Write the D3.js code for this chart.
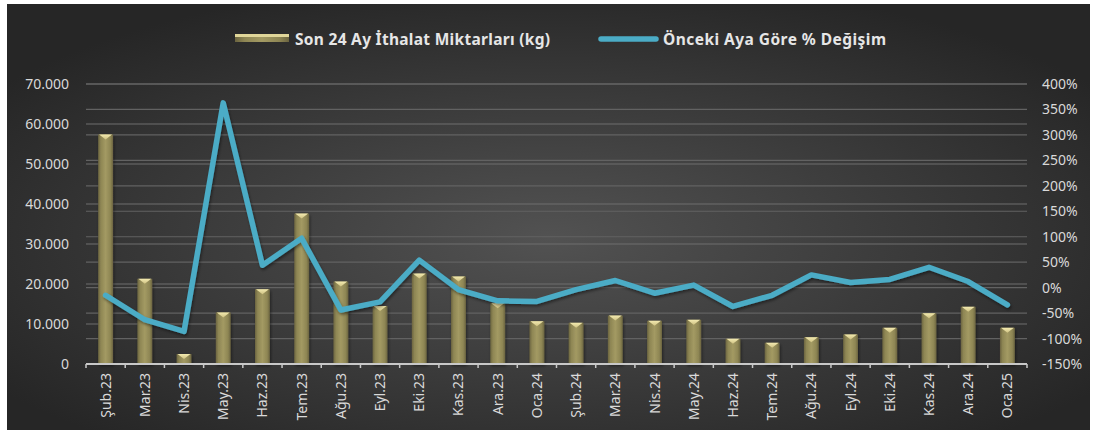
<!DOCTYPE html>
<html>
<head>
<meta charset="utf-8">
<script src="https://cdn.jsdelivr.net/npm/d3@7"></script>
<style>
  body { margin: 0; background: #ffffff; }
  svg { display: block; font-family: "Noto Sans", "Open Sans", sans-serif; }
</style>
</head>
<body>
<div id="chart"></div>
<script>
const WIDTH = 1094;
const HEIGHT = 436;

// data
const months = ["Şub.23", "Mar.23", "Nis.23", "May.23", "Haz.23", "Tem.23", "Ağu.23", "Eyl.23",
  "Eki.23", "Kas.23", "Ara.23", "Oca.24", "Şub.24", "Mar.24", "Nis.24", "May.24",
  "Haz.24", "Tem.24", "Ağu.24", "Eyl.24", "Eki.24", "Kas.24", "Ara.24", "Oca.25"];
const imports = [57400, 21300, 2500, 12900, 18700, 37600, 20600, 14500,
  22600, 21900, 15200, 10700, 10300, 12100, 10800, 11050,
  6300, 5300, 6700, 7400, 9050, 12700, 14300, 9050];
const change = [-15, -63, -86, 363, 44, 97, -44, -28,
  54, -4, -26, -27, -4, 14, -11, 5,
  -37, -15, 25, 10, 16, 40, 12, -34];
const leftTicks = [0, 10000, 20000, 30000, 40000, 50000, 60000, 70000];
const rightTicks = [-150, -100, -50, 0, 50, 100, 150, 200, 250, 300, 350, 400];

const legendBarLabel = "Son 24 Ay İthalat Miktarları (kg)";
const legendLineLabel = "Önceki Aya Göre % Değişim";

const PLOT = { left: 86, right: 1027, top: 84, bottom: 364 };

const svg = d3.select("#chart").append("svg")
  .attr("width", WIDTH)
  .attr("height", HEIGHT);

const defs = svg.append("defs");

const bg = defs.append("radialGradient")
  .attr("id", "bg")
  .attr("cx", 0.5).attr("cy", 0.55).attr("r", 0.62);
bg.append("stop").attr("offset", "0%").attr("stop-color", "#525252");
bg.append("stop").attr("offset", "100%").attr("stop-color", "#262626");

const barGrad = defs.append("linearGradient")
  .attr("id", "barGrad")
  .attr("x1", 0).attr("x2", 1).attr("y1", 0).attr("y2", 0);
[["0%", "#6b6440"], ["18%", "#8e8654"], ["50%", "#a39a63"], ["82%", "#8e8654"], ["100%", "#6b6440"]]
  .forEach(s => barGrad.append("stop").attr("offset", s[0]).attr("stop-color", s[1]));

const capGrad = defs.append("linearGradient")
  .attr("id", "capGrad")
  .attr("x1", 0).attr("x2", 0).attr("y1", 0).attr("y2", 1);
capGrad.append("stop").attr("offset", "0%").attr("stop-color", "#f3eab0");
capGrad.append("stop").attr("offset", "100%").attr("stop-color", "#cfc283");

const shadow = defs.append("filter").attr("id", "shadow")
  .attr("x", "-20%").attr("y", "-20%").attr("width", "140%").attr("height", "140%");
shadow.append("feDropShadow")
  .attr("dx", 1).attr("dy", 2).attr("stdDeviation", 1.5)
  .attr("flood-color", "#000").attr("flood-opacity", 0.45);

// background panel
svg.append("rect")
  .attr("x", 7).attr("y", 4)
  .attr("width", 1083).attr("height", 426)
  .attr("fill", "url(#bg)");

const xScale = d3.scaleBand()
  .domain(months)
  .range([PLOT.left, PLOT.right])
  .paddingInner(0.62)
  .paddingOuter(0.31);

const yLeft = d3.scaleLinear().domain([0, 70000]).range([PLOT.bottom, PLOT.top]);
const yRight = d3.scaleLinear().domain([-150, 400]).range([PLOT.bottom, PLOT.top]);

// gridlines for both axes
svg.append("g").selectAll("line")
  .data(leftTicks)
  .enter().append("line")
  .attr("x1", PLOT.left).attr("x2", PLOT.right)
  .attr("y1", d => yLeft(d)).attr("y2", d => yLeft(d))
  .attr("stroke", "#6e6e6e").attr("stroke-width", 1.2);

svg.append("g").selectAll("line")
  .data(rightTicks)
  .enter().append("line")
  .attr("x1", PLOT.left).attr("x2", PLOT.right)
  .attr("y1", d => yRight(d)).attr("y2", d => yRight(d))
  .attr("stroke", "#626262").attr("stroke-width", 1.2);

// bars
const barG = svg.append("g");
barG.selectAll("rect")
  .data(imports)
  .enter().append("rect")
  .attr("x", (d, i) => xScale(months[i]))
  .attr("y", d => yLeft(d))
  .attr("width", xScale.bandwidth())
  .attr("height", d => yLeft(0) - yLeft(d))
  .attr("fill", "url(#barGrad)")
  .attr("filter", "url(#shadow)");

barG.selectAll("polygon")
  .data(imports)
  .enter().append("polygon")
  .attr("points", (d, i) => {
    const x0 = xScale(months[i]);
    const w = xScale.bandwidth();
    const y0 = yLeft(d);
    return [[x0 + 1, y0], [x0 + w - 1, y0], [x0 + w / 2, y0 + 5]].join(" ");
  })
  .attr("fill", "url(#capGrad)");

// x axis
const step = xScale.step();
const xAxisG = svg.append("g");
xAxisG.append("line")
  .attr("x1", PLOT.left).attr("x2", PLOT.right)
  .attr("y1", PLOT.bottom).attr("y2", PLOT.bottom)
  .attr("stroke", "#c8c8c8").attr("stroke-width", 2);
xAxisG.selectAll("line.tick")
  .data(d3.range(months.length + 1))
  .enter().append("line")
  .attr("class", "tick")
  .attr("x1", i => PLOT.left + i * step).attr("x2", i => PLOT.left + i * step)
  .attr("y1", PLOT.bottom).attr("y2", PLOT.bottom + 4)
  .attr("stroke", "#c8c8c8").attr("stroke-width", 1.5);

xAxisG.selectAll("text")
  .data(months)
  .enter().append("text")
  .attr("transform", d => "translate(" + (xScale(d) + xScale.bandwidth() / 2 + 5) + "," + (PLOT.bottom + 9) + ") rotate(-90)")
  .attr("text-anchor", "end")
  .attr("fill", "#d9d9d9")
  .attr("font-size", "14px")
  .text(d => d);

// left axis labels
const fmtK = d3.formatLocale({ decimal: ",", thousands: ".", grouping: [3], currency: ["", ""] }).format(",");
svg.append("g").selectAll("text")
  .data(leftTicks)
  .enter().append("text")
  .attr("x", 69)
  .attr("y", d => yLeft(d) + 5)
  .attr("text-anchor", "end")
  .attr("fill", "#d9d9d9")
  .attr("font-size", "14px")
  .text(d => fmtK(d));

// right axis labels
svg.append("g").selectAll("text")
  .data(rightTicks)
  .enter().append("text")
  .attr("x", 1042)
  .attr("y", d => yRight(d) + 5)
  .attr("text-anchor", "start")
  .attr("fill", "#d9d9d9")
  .attr("font-size", "14px")
  .text(d => d + "%");

// line
const line = d3.line()
  .x((d, i) => xScale(months[i]) + xScale.bandwidth() / 2)
  .y(d => yRight(d));

svg.append("path")
  .datum(change)
  .attr("d", line)
  .attr("fill", "none")
  .attr("stroke", "#4bacc6")
  .attr("stroke-width", 5.5)
  .attr("stroke-linejoin", "round")
  .attr("stroke-linecap", "round")
  .attr("filter", "url(#shadow)");

// legend
const legend = svg.append("g");
legend.append("rect")
  .attr("x", 235).attr("y", 34)
  .attr("width", 54).attr("height", 8)
  .attr("fill", "url(#barGrad)");
legend.append("rect")
  .attr("x", 235).attr("y", 34)
  .attr("width", 54).attr("height", 3)
  .attr("fill", "#e0d699");
legend.append("text")
  .attr("x", 295).attr("y", 45)
  .attr("fill", "#e6e6e6")
  .attr("font-size", "15.5px")
  .attr("font-weight", "bold")
  .attr("textLength", 255)
  .attr("lengthAdjust", "spacing")
  .text(legendBarLabel);

legend.append("line")
  .attr("x1", 601).attr("x2", 656)
  .attr("y1", 39).attr("y2", 39)
  .attr("stroke", "#4bacc6")
  .attr("stroke-width", 5.5)
  .attr("stroke-linecap", "round");
legend.append("text")
  .attr("x", 663).attr("y", 45)
  .attr("fill", "#e6e6e6")
  .attr("font-size", "15.5px")
  .attr("font-weight", "bold")
  .attr("textLength", 223)
  .attr("lengthAdjust", "spacing")
  .text(legendLineLabel);
</script>
</body>
</html>
